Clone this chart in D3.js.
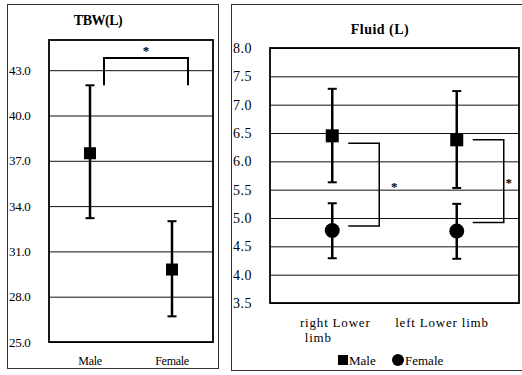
<!DOCTYPE html>
<html>
<head>
<meta charset="utf-8">
<script src="https://cdn.jsdelivr.net/npm/d3@7"></script>
<style>
  body { margin: 0; background: #fff; }
</style>
</head>
<body>
<div id="chart"></div>
<script>
// left panel: TBW
var tbwCats = ["Male", "Female"];
var tbwMean = [37.5, 29.8];
var tbwHi = [42.0, 33.0];
var tbwLo = [33.2, 26.7];
var tbwTicks = [25, 28, 31, 34, 37, 40, 43];
var tbwSigTop = 43.8, tbwSigEnd = 42.0;

// right panel: fluid per limb
var fluidCats = ["right Lower limb", "left Lower limb"];
var maleMean = [6.45, 6.38];
var maleHi = [7.28, 7.24];
var maleLo = [5.63, 5.53];
var femaleMean = [4.78, 4.77];
var femaleHi = [5.26, 5.25];
var femaleLo = [4.29, 4.28];
var fluidTicks = [3.5, 4.0, 4.5, 5.0, 5.5, 6.0, 6.5, 7.0, 7.5, 8.0];
var sigTop = [6.32, 6.38];
var sigBot = [4.86, 4.92];
var starGap = [15, 5];

var FONT = "'Liberation Serif', 'DejaVu Serif', serif";
var W = 522, H = 375;
var svg = d3.select("#chart").append("svg")
    .attr("width", W).attr("height", H)
    .attr("font-family", FONT);

// panel frames
svg.append("rect").attr("x", 7.5).attr("y", 4.5).attr("width", 211).attr("height", 364)
    .attr("fill", "none").attr("stroke", "#333").attr("stroke-width", 1);
svg.append("rect").attr("x", 231.5).attr("y", 4.5).attr("width", 300).attr("height", 366)
    .attr("fill", "none").attr("stroke", "#333").attr("stroke-width", 1);

function label(g, x, y, txt, size, anchor) {
    return g.append("text").attr("x", x).attr("y", y)
        .attr("text-anchor", anchor || "middle")
        .style("font-family", FONT).style("font-size", size + "px")
        .attr("fill", "#000").text(txt);
}

function errorBar(g, x, lo, hi, y) {
    g.append("line").attr("x1", x).attr("x2", x).attr("y1", y(lo)).attr("y2", y(hi))
        .attr("stroke", "#000").attr("stroke-width", 2.5);
    [lo, hi].forEach(function(v) {
        g.append("line").attr("x1", x - 4.5).attr("x2", x + 4.5).attr("y1", y(v)).attr("y2", y(v))
            .attr("stroke", "#000").attr("stroke-width", 2);
    });
}

// ---------- left ----------
var L = {left: 49, right: 213, top: 40, bottom: 342};
var xL = d3.scalePoint().domain(tbwCats).range([L.left, L.right]).padding(0.5);
var yL = d3.scaleLinear().domain([25, 45]).range([L.bottom, L.top]);

var gl = svg.append("g");
var axL = gl.append("g").attr("transform", "translate(" + L.left + ",0)")
    .call(d3.axisLeft(yL).tickValues(tbwTicks).tickFormat(d3.format(".1f"))
        .tickSize(-(L.right - L.left)).tickPadding(0));
axL.select(".domain").remove();
axL.selectAll(".tick line").attr("stroke", "#111").attr("stroke-width", 1);
axL.selectAll(".tick text").attr("x", 9 - L.left).attr("text-anchor", "start")
    .style("font-family", FONT).style("font-size", "13px").style("letter-spacing", "-0.3px");

gl.append("rect").attr("x", L.left).attr("y", L.top)
    .attr("width", L.right - L.left).attr("height", L.bottom - L.top)
    .attr("fill", "none").attr("stroke", "#000").attr("stroke-width", 1.8);

label(gl, 98, 25, "TBW(L)", 14).style("font-weight", "bold").style("letter-spacing", "-0.5px");

tbwCats.forEach(function(c, i) {
    errorBar(gl, xL(c), tbwLo[i], tbwHi[i], yL);
    gl.append("rect").attr("x", xL(c) - 6).attr("y", yL(tbwMean[i]) - 6)
        .attr("width", 12).attr("height", 12).attr("fill", "#000");
    label(gl, xL(c), 365, c, 12).style("letter-spacing", "-0.3px");
});

// significance bracket
var bx1 = xL(tbwCats[0]) + 14, bx2 = xL(tbwCats[1]) + 16;
gl.append("path")
    .attr("d", "M" + bx1 + "," + yL(tbwSigEnd) + "V" + yL(tbwSigTop) + "H" + bx2 + "V" + yL(tbwSigEnd))
    .attr("fill", "none").attr("stroke", "#000").attr("stroke-width", 2);
label(gl, (bx1 + bx2) / 2, 55, "*", 13).style("font-weight", "bold");

// ---------- right ----------
var R = {left: 270, right: 519, top: 48, bottom: 303};
var xR = d3.scalePoint().domain(fluidCats).range([R.left, R.right]).padding(0.5);
var yR = d3.scaleLinear().domain([3.5, 8.0]).range([R.bottom, R.top]);

var gr = svg.append("g");
var axR = gr.append("g").attr("transform", "translate(" + R.left + ",0)")
    .call(d3.axisLeft(yR).tickValues(fluidTicks).tickFormat(d3.format(".1f"))
        .tickSize(-(R.right - R.left)).tickPadding(0));
axR.select(".domain").remove();
axR.selectAll(".tick line").attr("stroke", "#111").attr("stroke-width", 1);
axR.selectAll(".tick text").attr("x", 233 - R.left).attr("text-anchor", "start")
    .style("font-family", FONT).style("font-size", "14px").style("letter-spacing", "0.5px");

gr.append("rect").attr("x", R.left).attr("y", R.top)
    .attr("width", R.right - R.left).attr("height", R.bottom - R.top)
    .attr("fill", "none").attr("stroke", "#000").attr("stroke-width", 1.8);

label(gr, 380, 34, "Fluid (L)", 14).style("font-weight", "bold").style("letter-spacing", "0.5px");

fluidCats.forEach(function(c, i) {
    var x = xR(c);
    errorBar(gr, x, maleLo[i], maleHi[i], yR);
    errorBar(gr, x, femaleLo[i], femaleHi[i], yR);
    gr.append("rect").attr("x", x - 6.5).attr("y", yR(maleMean[i]) - 6.5)
        .attr("width", 13).attr("height", 13).attr("fill", "#000");
    gr.append("circle").attr("cx", x).attr("cy", yR(femaleMean[i])).attr("r", 7.5).attr("fill", "#000");

    var b1 = x + 16, b2 = x + 47;
    gr.append("path")
        .attr("d", "M" + b1 + "," + yR(sigTop[i]) + "H" + b2 + "V" + yR(sigBot[i]) + "H" + b1)
        .attr("fill", "none").attr("stroke", "#000").attr("stroke-width", 1.5);
    label(gr, b2 + starGap[i], yR((sigTop[i] + sigBot[i]) / 2) + 6, "*", 13).style("font-weight", "bold");
});

// category labels
label(gr, xR(fluidCats[0]) + 3, 327, "right Lower", 13).style("letter-spacing", "0.8px");
label(gr, xR(fluidCats[0]) - 14, 342, "limb", 13).style("letter-spacing", "0.8px");
label(gr, 442, 327, "left Lower limb", 13).style("letter-spacing", "0.8px");

// legend
var lg = gr.append("g").attr("transform", "translate(338,360)");
lg.append("rect").attr("x", 0).attr("y", -5).attr("width", 10).attr("height", 10).attr("fill", "#000");
label(lg, 11, 4.5, "Male", 13, "start");
lg.append("circle").attr("cx", 60).attr("cy", 0).attr("r", 6).attr("fill", "#000");
label(lg, 67, 4.5, "Female", 13, "start");
</script>
</body>
</html>
